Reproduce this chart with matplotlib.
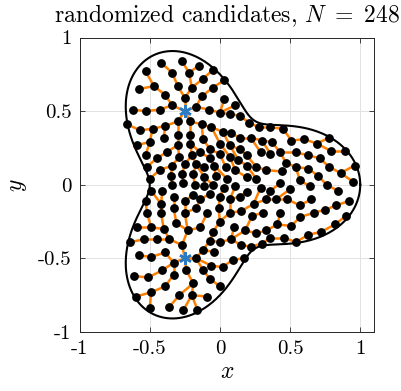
import heapq

import matplotlib.pyplot as plt
import numpy as np
from matplotlib.collections import LineCollection

plt.rcParams['mathtext.fontset'] = 'cm'
plt.rcParams['font.family'] = 'cmr10'
plt.rcParams['axes.unicode_minus'] = False

# domain boundary, r(t) = r_mean + r_amp * cos(lobes * t)
lobes = 3
r_mean = 0.75
r_amp = 0.25

# seed nodes (stars)
seed_x = [-0.25, -0.25]
seed_y = [0.5, -0.5]

# candidate nodes, grouped by region
upper_lobe = [
    (-0.42, 0.83), (-0.27, 0.84), (-0.15, 0.81),
    (-0.53, 0.77), (-0.34, 0.76), (-0.22, 0.76), (-0.05, 0.78),
    (-0.12, 0.72), (0.03, 0.71),
    (-0.58, 0.65), (-0.47, 0.67), (-0.30, 0.67), (-0.20, 0.66), (-0.05, 0.66),
    (-0.39, 0.61), (-0.25, 0.59), (-0.13, 0.60), (0.03, 0.58),
    (-0.34, 0.54), (0.11, 0.54),
    (-0.62, 0.51), (-0.53, 0.50), (-0.43, 0.51), (-0.17, 0.53), (-0.08, 0.51),
    (0.00, 0.49), (0.07, 0.48),
    (0.14, 0.47), (0.21, 0.42), (0.28, 0.39), (0.36, 0.39), (0.45, 0.38),
    (-0.66, 0.41), (-0.57, 0.37), (-0.48, 0.38), (-0.39, 0.40), (-0.30, 0.43),
    (-0.21, 0.43), (-0.13, 0.41), (-0.06, 0.39), (0.02, 0.36), (0.08, 0.35),
    (0.14, 0.32), (0.22, 0.32), (0.30, 0.30),
    (-0.59, 0.27), (-0.50, 0.29), (-0.40, 0.32), (-0.30, 0.34), (-0.21, 0.34),
    (-0.12, 0.31),
]

right_lobe = [
    (0.51, 0.30), (0.60, 0.31), (0.69, 0.28), (0.78, 0.32), (0.37, 0.29),
    (0.43, 0.22), (0.54, 0.22), (0.63, 0.20), (0.71, 0.18), (0.79, 0.23),
    (0.89, 0.23),
    (0.47, 0.15), (0.96, 0.13), (0.54, 0.12), (0.63, 0.11), (0.78, 0.12),
    (0.86, 0.08), (0.70, 0.06),
    (0.44, 0.09), (0.57, 0.03), (0.64, -0.01), (0.76, 0.00), (0.84, -0.04),
    (0.95, 0.02), (0.43, 0.01), (0.50, -0.03),
    (0.48, -0.10), (0.65, -0.10), (0.92, -0.11), (0.57, -0.14), (0.83, -0.14),
    (0.75, -0.17), (0.67, -0.19), (0.57, -0.22), (0.43, -0.19),
    (0.51, -0.28), (0.41, -0.27), (0.46, -0.36), (0.54, -0.39), (0.63, -0.34),
    (0.72, -0.32), (0.82, -0.27), (0.90, -0.21),
    (0.36, -0.36), (0.30, -0.40), (0.22, -0.42),
]

centre = [
    (-0.30, 0.27), (-0.21, 0.28), (-0.07, 0.24), (0.00, 0.28), (0.07, 0.27),
    (0.14, 0.24), (0.29, 0.22), (0.36, 0.21),
    (-0.53, 0.20), (-0.45, 0.18), (-0.38, 0.22), (-0.29, 0.19), (-0.20, 0.20),
    (-0.14, 0.22), (-0.07, 0.18), (0.00, 0.21), (0.07, 0.19), (0.13, 0.17),
    (0.19, 0.20),
    (-0.52, 0.12), (-0.43, 0.10), (-0.34, 0.13), (-0.25, 0.14), (-0.17, 0.14),
    (-0.11, 0.12), (-0.04, 0.13), (0.04, 0.12), (0.11, 0.10), (0.19, 0.13),
    (0.26, 0.12), (0.33, 0.10),
    (-0.50, 0.04), (-0.35, 0.06), (-0.27, 0.07), (-0.19, 0.07), (-0.11, 0.05),
    (-0.03, 0.06), (0.05, 0.04), (0.19, 0.05), (0.26, 0.04),
    (-0.49, -0.04), (-0.41, -0.04), (-0.34, 0.00), (-0.26, 0.01), (-0.18, 0.00),
    (-0.11, -0.01), (-0.05, 0.00), (0.03, -0.02), (0.11, -0.01), (0.19, -0.05),
    (0.29, -0.02), (0.36, -0.04),
    (-0.53, -0.11), (-0.42, -0.13), (-0.33, -0.08), (-0.25, -0.11), (-0.19, -0.07),
    (-0.14, -0.10), (-0.07, -0.06), (0.00, -0.08), (0.07, -0.10), (0.14, -0.08),
    (0.24, -0.13), (0.33, -0.10), (0.40, -0.10),
    (-0.52, -0.19), (-0.42, -0.19), (-0.33, -0.16), (-0.25, -0.19), (-0.17, -0.16),
    (-0.09, -0.19), (-0.01, -0.16), (0.07, -0.19), (0.15, -0.18), (0.23, -0.21),
    (0.31, -0.19),
    (-0.59, -0.29), (-0.49, -0.29), (-0.40, -0.30), (-0.31, -0.26), (-0.23, -0.31),
    (-0.14, -0.29), (-0.05, -0.32), (0.00, -0.25), (0.10, -0.29), (0.18, -0.31),
    (0.26, -0.33), (0.33, -0.31),
]

lower_lobe = [
    (-0.64, -0.39), (-0.54, -0.37), (-0.45, -0.37), (-0.36, -0.37), (-0.27, -0.41),
    (-0.58, -0.48), (-0.49, -0.49), (-0.39, -0.46), (-0.17, -0.50),
    (-0.61, -0.62), (-0.51, -0.63), (-0.41, -0.58), (-0.33, -0.53), (-0.33, -0.61),
    (-0.24, -0.58),
    (-0.60, -0.76), (-0.49, -0.73), (-0.39, -0.69), (-0.29, -0.75), (-0.20, -0.75),
    (-0.19, -0.67),
    (-0.50, -0.84), (-0.36, -0.83), (-0.26, -0.85), (-0.16, -0.85),
    (-0.07, -0.38), (0.00, -0.39), (0.08, -0.37), (0.15, -0.41),
    (-0.12, -0.44), (-0.04, -0.46), (0.09, -0.51), (0.17, -0.50),
    (-0.12, -0.58), (-0.06, -0.55), (0.02, -0.56), (-0.07, -0.64), (0.00, -0.69),
    (-0.09, -0.76),
]

n_label = 248
tick_vals = [-1, -0.5, 0, 0.5, 1]
tick_labels = ['-1', '-0.5', '0', '0.5', '1']

seeds = np.column_stack([seed_x, seed_y])
pts = np.vstack([seeds, np.array(upper_lobe + right_lobe + centre + lower_lobe)])
n = len(pts)

# tree edges: each node hangs off the neighbour on its cheapest route to a seed
d = np.hypot(pts[:, None, 0] - pts[None, :, 0], pts[:, None, 1] - pts[None, :, 1])
cost = np.full(n, np.inf)
parent = np.full(n, -1)
done = np.zeros(n, bool)
heap = []
for s in range(len(seeds)):
    cost[s] = 0.0
    heapq.heappush(heap, (0.0, s))
while heap:
    c, i = heapq.heappop(heap)
    if done[i]:
        continue
    done[i] = True
    for j in np.nonzero(d[i] < 0.13)[0]:
        nc = c + d[i, j] ** 1.3
        if nc < cost[j]:
            cost[j] = nc
            parent[j] = i
            heapq.heappush(heap, (nc, j))
for j in np.nonzero(~done)[0]:
    parent[j] = np.argmin(np.where(done, d[j], np.inf))

segs = [(pts[j], pts[parent[j]]) for j in range(n) if parent[j] >= 0]

fig = plt.figure(figsize=(4.02, 3.91), dpi=100)
ax = fig.add_axes([0.198, 0.151, 0.733, 0.753])

ax.add_collection(LineCollection(segs, colors='#ff8000', linewidths=1.8, zorder=2))

t = np.linspace(0, 2 * np.pi, 600)
r = r_mean + r_amp * np.cos(lobes * t)
ax.plot(r * np.cos(t), r * np.sin(t), color='black', lw=1.5, zorder=3)

ax.plot(pts[2:, 0], pts[2:, 1], 'o', color='black', ms=5.3, zorder=4)
ax.plot(seed_x, seed_y, marker=(6, 2, 0), ls='none', color='#2b7bc4',
        ms=9, mew=1.8, zorder=5)

ax.set_xlim(-1, 1.1)
ax.set_ylim(-1, 1)
ax.set_xticks(tick_vals)
ax.set_xticklabels(tick_labels)
ax.set_yticks(tick_vals)
ax.set_yticklabels(tick_labels)
ax.tick_params(direction='in', top=True, right=True, length=3.5, width=0.6,
               labelsize=15, pad=6, color='#262626')
ax.grid(True, color='#e2e2e2', lw=0.7)
ax.set_axisbelow(True)
for sp in ax.spines.values():
    sp.set_linewidth(0.7)
    sp.set_color('#262626')

ax.set_title(r'randomized candidates, $N\ =\ %d$' % n_label, fontsize=17, pad=11)
ax.set_xlabel(r'$x$', fontsize=17, labelpad=2)
ax.set_ylabel(r'$y$', fontsize=17, labelpad=6)

fig.savefig('out.png', dpi=100)
